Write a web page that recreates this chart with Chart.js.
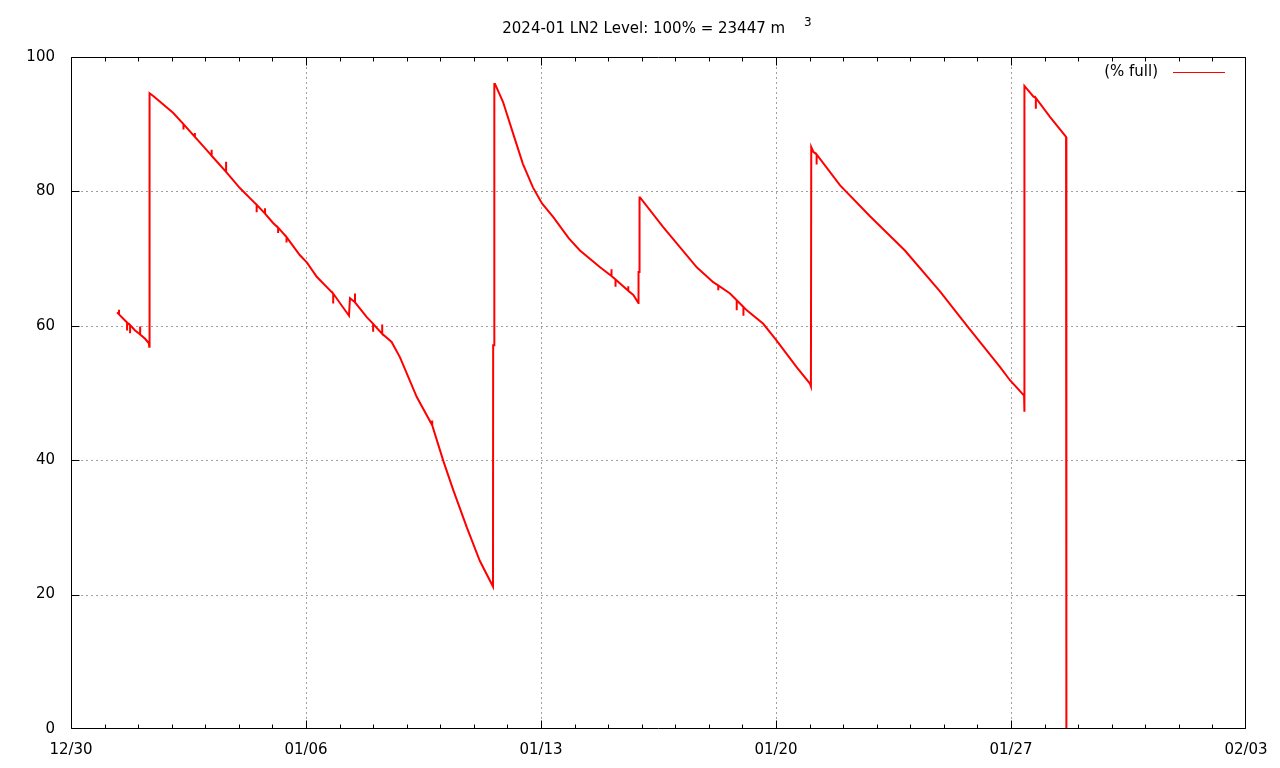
<!DOCTYPE html>
<html>
<head>
<meta charset="utf-8">
<script src="https://cdn.jsdelivr.net/npm/chart.js@4/dist/chart.umd.min.js"></script>
<style>
  html, body { margin: 0; padding: 0; background: #ffffff; }
  #wrap { width: 1280px; height: 768px; }
</style>
</head>
<body>
<div id="wrap"><canvas id="c" width="1280" height="768"></canvas></div>
<script>
// ---- data (x = days since 12/30 00:00, y = % full) ----
const days = [
  1.37, 1.43, 1.43, 1.43, 1.61, 1.67, 1.67, 1.67, 1.76, 1.76, 1.76, 1.91, 2.06, 2.06, 2.06, 2.20, 2.32, 2.33, 2.34,
  2.34, 2.45, 3.04, 3.35, 3.35, 3.35, 3.69, 3.69, 3.69, 4.05, 4.19, 4.19, 4.19, 4.62, 4.62, 4.62, 5.03,
  5.53, 5.53, 5.53, 5.78, 5.78, 5.78, 6.02, 6.17, 6.17, 6.17, 6.42, 6.42, 6.42,
  6.82, 7.03, 7.32, 7.81, 7.81, 7.81, 8.28, 8.31, 8.46, 8.46, 8.46, 8.81, 9.00, 9.00, 9.00, 9.27, 9.27, 9.27,
  9.55, 9.80, 10.30, 10.76, 10.76, 10.76, 11.09, 11.39, 11.79, 12.18, 12.57, 12.575, 12.605, 12.61,
  12.63, 12.87, 13.17, 13.46, 13.76, 14.03, 14.36, 14.83, 15.16, 15.76, 16.10, 16.10, 16.10, 16.22, 16.22, 16.22,
  16.60, 16.60, 16.60, 16.75, 16.90, 16.905, 16.93, 16.935,
  16.95, 17.64, 18.64, 19.13, 19.28, 19.28, 19.28, 19.63, 19.83, 19.83, 19.83, 20.03, 20.03, 20.03, 20.13,
  20.62, 21.02, 21.62, 22.01, 22.04, 22.05,
  22.11, 22.21, 22.21, 22.21, 22.91, 23.80, 24.84, 25.89, 26.72, 27.67, 27.97, 28.39, 28.40, 28.40,
  28.67, 28.74, 28.74, 28.74, 29.16, 29.64, 29.65
];
const level = [
  62.0, 61.7, 62.4, 61.7, 60.8, 60.5, 59.3, 60.5, 60.1, 58.9, 60.1, 59.3, 58.7, 59.9, 58.7, 58.1, 57.4, 56.9, 94.6,
  94.6, 94.2, 91.7, 90.0, 89.2, 90.0, 88.1, 88.7, 88.1, 86.1, 85.3, 86.2, 85.3, 82.9, 84.4, 82.9, 80.5,
  78.0, 76.9, 78.0, 76.7, 77.5, 76.7, 75.3, 74.6, 73.8, 74.6, 73.2, 72.4, 73.2,
  70.5, 69.4, 67.3, 64.8, 63.3, 64.8, 61.5, 64.1, 63.5, 64.8, 63.5, 61.3, 60.3, 59.1, 60.3, 58.8, 60.2, 58.8,
  57.6, 55.3, 49.4, 45.2, 45.9, 45.2, 39.9, 35.5, 30.0, 25.0, 21.2, 57.1, 57.1, 96.0,
  96.0, 93.3, 88.6, 84.1, 80.6, 78.2, 76.2, 73.0, 71.2, 68.7, 67.4, 68.4, 67.4, 66.9, 65.8, 66.9,
  65.2, 65.9, 65.2, 64.6, 63.4, 68.0, 68.0, 79.1,
  79.1, 74.7, 68.7, 66.5, 66.0, 65.3, 66.0, 64.8, 63.8, 62.3, 63.8, 62.8, 61.5, 62.8, 62.3,
  60.3, 57.8, 53.8, 51.4, 51.0, 86.6,
  85.9, 85.5, 84.0, 85.5, 80.9, 76.3, 71.2, 65.1, 59.8, 53.9, 51.9, 49.6, 47.2, 95.7,
  94.1, 93.9, 92.3, 93.9, 91.1, 88.1, 0
];
const xTickDays = [0, 7, 14, 21, 28, 35];
const xTickLabels = ['12/30', '01/06', '01/13', '01/20', '01/27', '02/03'];
const yTicks = [0, 20, 40, 60, 80, 100];
const seriesLabel = '(% full)';
const titleMain = '2024-01 LN2 Level: 100% = 23447 m';
const titleSup = '3';

const FONT = '"DejaVu Sans", sans-serif';

const points = days.map((d, i) => ({ x: d, y: level[i] }));

const frame = {
  id: 'frame',
  beforeDatasetsDraw(chart) {
    const { ctx, chartArea: a, scales: { x, y } } = chart;
    ctx.save();
    ctx.strokeStyle = '#a0a0a0';
    ctx.lineWidth = 1;
    ctx.setLineDash([2, 3]);
    ctx.beginPath();
    xTickDays.forEach(v => {
      if (v > x.min && v < x.max) {
        const px = Math.round(x.getPixelForValue(v)) + 0.5;
        ctx.moveTo(px, a.top); ctx.lineTo(px, a.bottom);
      }
    });
    yTicks.forEach(v => {
      if (v > y.min && v < y.max) {
        const py = Math.round(y.getPixelForValue(v)) + 0.5;
        ctx.moveTo(a.left, py); ctx.lineTo(a.right, py);
      }
    });
    ctx.stroke();
    ctx.restore();
  },
  afterDatasetsDraw(chart) {
    const { ctx, chartArea: a, scales: { x, y } } = chart;
    ctx.save();
    ctx.strokeStyle = '#000000';
    ctx.lineWidth = 1;
    ctx.setLineDash([]);
    const L = Math.round(a.left) + 0.5, R = Math.round(a.right) - 0.5;
    const T = Math.round(a.top) + 0.5, B = Math.round(a.bottom) - 0.5;
    const cx = p => Math.min(Math.max(p, L), R);
    const cy = p => Math.min(Math.max(p, T), B);
    ctx.beginPath();
    ctx.rect(L, T, R - L, B - T);
    // x ticks (major + daily minor), mirrored
    for (let d = x.min; d <= x.max; d++) {
      const major = xTickDays.includes(d);
      const len = major ? 8 : 4;
      const px = cx(Math.round(x.getPixelForValue(d)) + 0.5);
      ctx.moveTo(px, B); ctx.lineTo(px, B - len);
      ctx.moveTo(px, T); ctx.lineTo(px, T + len);
    }
    yTicks.forEach(v => {
      const py = cy(Math.round(y.getPixelForValue(v)) + 0.5);
      ctx.moveTo(L, py); ctx.lineTo(L + 8, py);
      ctx.moveTo(R, py); ctx.lineTo(R - 8, py);
    });
    ctx.stroke();

    // legend (key)
    ctx.fillStyle = '#000000';
    ctx.font = '15px ' + FONT;
    ctx.textAlign = 'right';
    ctx.textBaseline = 'middle';
    ctx.fillText(seriesLabel, 1158, 72);
    ctx.strokeStyle = '#ff0000';
    ctx.beginPath();
    ctx.moveTo(1173, 72.5); ctx.lineTo(1225, 72.5);
    ctx.stroke();
    ctx.restore();
  },
  afterDraw(chart) {
    const { ctx } = chart;
    ctx.save();
    ctx.fillStyle = '#000000';
    ctx.textBaseline = 'alphabetic';
    ctx.textAlign = 'left';
    ctx.font = '15px ' + FONT;
    const w = ctx.measureText(titleMain).width;
    ctx.font = '12px ' + FONT;
    const w3 = ctx.measureText(titleSup).width;
    const gap = 19;
    const left = 657 - (w + gap + w3) / 2;
    ctx.font = '15px ' + FONT;
    ctx.fillText(titleMain, left, 33);
    ctx.font = '12px ' + FONT;
    ctx.fillText(titleSup, left + w + gap, 26);
    ctx.restore();
  }
};

new Chart(document.getElementById('c'), {
  type: 'line',
  data: {
    datasets: [{
      label: seriesLabel,
      data: points,
      borderColor: '#ff0000',
      backgroundColor: '#ff0000',
      borderWidth: 2,
      pointRadius: 0,
      tension: 0,
      fill: false
    }]
  },
  options: {
    responsive: false,
    animation: false,
    devicePixelRatio: 1,
    layout: { padding: { left: 0, right: 34, top: 57, bottom: 0 } },
    plugins: {
      legend: { display: false },
      title: { display: false },
      tooltip: { enabled: false }
    },
    scales: {
      x: {
        type: 'linear',
        min: 0,
        max: 35,
        afterBuildTicks: s => { s.ticks = xTickDays.map(v => ({ value: v })); },
        afterFit: s => { s.height = 39; },
        grid: { display: false, drawTicks: false },
        border: { display: false },
        ticks: {
          autoSkip: false,
          maxRotation: 0,
          padding: 12,
          color: '#000000',
          font: { family: FONT, size: 15 },
          callback: v => xTickLabels[xTickDays.indexOf(v)]
        }
      },
      y: {
        type: 'linear',
        min: 0,
        max: 100,
        afterBuildTicks: s => { s.ticks = yTicks.map(v => ({ value: v })); },
        afterFit: s => { s.width = 71; },
        grid: { display: false, drawTicks: false },
        border: { display: false },
        ticks: {
          padding: 16,
          color: '#000000',
          font: { family: FONT, size: 15 },
          callback: v => String(v)
        }
      }
    }
  },
  plugins: [frame]
});
</script>
</body>
</html>
